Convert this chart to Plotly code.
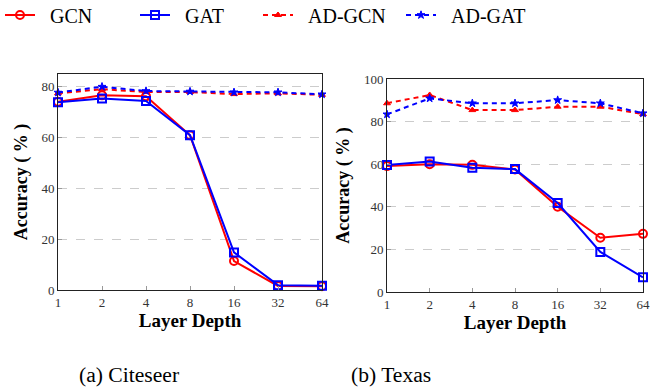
import plotly.graph_objects as go

depths = ["1", "2", "4", "8", "16", "32", "64"]

cite_gcn = [74.1, 76.6, 76.2, 60.9, 11.4, 1.6, 1.5]
cite_gat = [73.9, 75.4, 74.4, 60.9, 14.8, 1.9, 1.7]
cite_adgcn = [77.4, 79.0, 77.9, 77.9, 77.1, 77.4, 76.8]
cite_adgat = [77.7, 80.0, 78.3, 78.1, 77.8, 77.8, 77.0]

tex_gcn = [59.1, 60.0, 59.7, 57.5, 40.0, 25.5, 27.3]
tex_gat = [59.6, 61.3, 58.3, 57.7, 41.8, 18.8, 6.9]
tex_adgcn = [88.6, 92.5, 85.4, 85.4, 87.0, 87.0, 83.5]
tex_adgat = [83.4, 90.9, 88.6, 88.6, 90.1, 88.6, 83.9]

names = ["GCN", "GAT", "AD-GCN", "AD-GAT"]
colors = ["#ff0000", "#0000ff", "#ff0000", "#0000ff"]
dashes = ["solid", "solid", "5px,4px", "5px,4px"]
symbols = ["circle-open", "square-open", "triangle-up", "star"]
msizes = [8, 8, 6, 6]

W, H = 650, 392
FONT = "Liberation Serif"

xs = list(range(len(depths)))

fig = go.Figure()

legend_ids = ["legend", "legend2", "legend3", "legend4"]
panels = [
    ("x", "y", [cite_gcn, cite_gat, cite_adgcn, cite_adgat]),
    ("x2", "y2", [tex_gcn, tex_gat, tex_adgcn, tex_adgat]),
]
for pi, (xa, ya, series) in enumerate(panels):
    for i, vals in enumerate(series):
        fig.add_trace(go.Scatter(
            x=xs, y=vals, xaxis=xa, yaxis=ya,
            mode="lines+markers",
            name="\u00a0\u00a0" + names[i],
            line=dict(color=colors[i], width=2, dash=dashes[i]),
            marker=dict(symbol=symbols[i], size=msizes[i], color=colors[i],
                        line=dict(color=colors[i], width=2 if i < 2 else 1)),
            showlegend=(pi == 0),
            legend=legend_ids[i],
            cliponaxis=False,
        ))

def px_x(p):
    return p / W

def px_y(p):
    return 1 - p / H

axis_common = dict(
    showline=True, linecolor="#222222", linewidth=1, mirror=True,
    ticks="inside", ticklen=4, tickcolor="#999999",
    tickfont=dict(family=FONT, size=13, color="#333333"),
    zeroline=False,
)

fig.update_layout(
    width=W, height=H,
    margin=dict(l=0, r=0, t=0, b=0, autoexpand=False),
    paper_bgcolor="white", plot_bgcolor="white",
    font=dict(family=FONT, color="black"),
    xaxis=dict(domain=[px_x(58), px_x(322)], anchor="y",
               tickvals=xs, ticktext=depths, range=[0, 6], showgrid=False,
               title=dict(text="<b>Layer Depth</b>", font=dict(family=FONT, size=19), standoff=5),
               **axis_common),
    yaxis=dict(domain=[px_y(290), px_y(74)], anchor="x",
               range=[0, 85], tickvals=[0, 20, 40, 60, 80],
               showgrid=True, gridcolor="#cccccc", griddash="dash", gridwidth=1,
               title=dict(text="<b>Accuracy ( % )</b>", font=dict(family=FONT, size=18), standoff=9),
               **axis_common),
    xaxis2=dict(domain=[px_x(387), px_x(643)], anchor="y2",
                tickvals=xs, ticktext=depths, range=[0, 6], showgrid=False,
                title=dict(text="<b>Layer Depth</b>", font=dict(family=FONT, size=19), standoff=5),
                **axis_common),
    yaxis2=dict(domain=[px_y(292), px_y(79)], anchor="x2",
                range=[0, 100], tickvals=[0, 20, 40, 60, 80, 100],
                showgrid=True, gridcolor="#cccccc", griddash="dash", gridwidth=1,
                title=dict(text="<b>Accuracy ( % )</b>", font=dict(family=FONT, size=18), standoff=9),
                **axis_common),
)

leg_x = [0, 135, 258, 401]
for lid, lx in zip(legend_ids, leg_x):
    fig.update_layout({lid: dict(
        x=px_x(lx), y=px_y(15), xanchor="left", yanchor="middle",
        orientation="h", bgcolor="rgba(0,0,0,0)", borderwidth=0,
        font=dict(family=FONT, size=20, color="black"),
        itemwidth=30,
    )})

fig.add_annotation(text="(a) Citeseer", x=px_x(129), y=px_y(375), xref="paper", yref="paper",
                   xanchor="center", yanchor="middle",
                   showarrow=False, font=dict(family=FONT, size=21.6, color="black"))
fig.add_annotation(text="(b) Texas", x=px_x(391), y=px_y(375), xref="paper", yref="paper",
                   xanchor="center", yanchor="middle",
                   showarrow=False, font=dict(family=FONT, size=21.6, color="black"))

fig.write_html("out.html")
